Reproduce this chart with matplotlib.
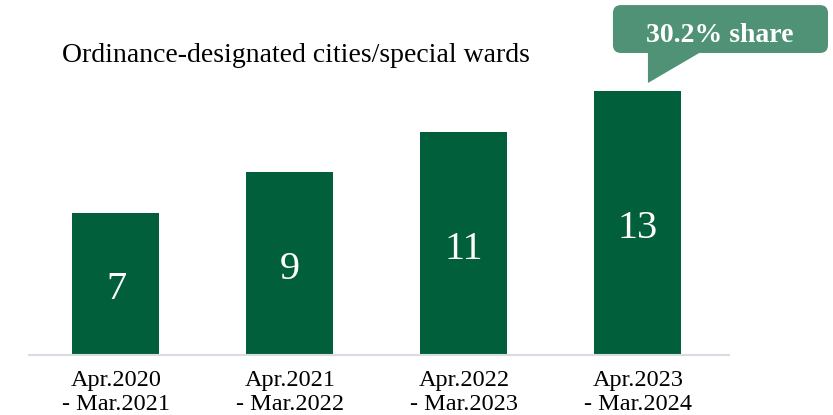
import matplotlib

matplotlib.use("Agg")
import matplotlib.pyplot as plt
from matplotlib.patches import FancyBboxPatch, Polygon

plt.rcParams["font.family"] = ["Liberation Serif", "DejaVu Serif"]

# data
periods = [
    "Apr.2020\n- Mar.2021",
    "Apr.2021\n- Mar.2022",
    "Apr.2022\n- Mar.2023",
    "Apr.2023\n- Mar.2024",
]
counts = [7, 9, 11, 13]
title = "Ordinance-designated cities/special wards"
callout = "30.2% share"

BAR = "#025f3b"
CALLOUT = "#4f9276"

W, H = 833, 415
fig = plt.figure(figsize=(W / 100, H / 100), dpi=100)
ax = fig.add_axes([29 / W, 60 / H, 700 / W, 355 / H])

x = list(range(len(counts)))
ax.bar(x, counts, width=0.5, color=BAR, zorder=2)
ax.set_xlim(-0.5, 3.523)
ax.set_ylim(0, 17.49)

for xi, v in zip(x, counts):
    ax.text(xi, v / 2 - 0.28, str(v), ha="center", va="center",
            color="white", fontsize=29)

ax.set_xticks(x)
ax.set_xticklabels(periods, fontsize=17.5, linespacing=1.15)
ax.tick_params(axis="x", length=0, pad=11)
ax.set_yticks([])
for s in ("top", "right", "left"):
    ax.spines[s].set_visible(False)
ax.spines["bottom"].set_color("#d9dde3")
ax.spines["bottom"].set_linewidth(1.5)

# callout above the last bar (data coords, ~174 px per x unit, ~20.3 px per y unit)
last = x[-1]
top = counts[-1]
box = FancyBboxPatch((last - 0.144, top + 1.88), 1.236, 2.36,
                     boxstyle="round,pad=0,rounding_size=0.046",
                     mutation_aspect=8.6, facecolor=CALLOUT,
                     edgecolor="none", clip_on=False, zorder=3)
ax.add_patch(box)
ax.add_patch(Polygon([(last + 0.057, top + 1.9), (last + 0.356, top + 1.9),
                      (last + 0.057, top + 0.4)], closed=True,
                     facecolor=CALLOUT, edgecolor="none",
                     clip_on=False, zorder=3))
ax.text(last + 0.471, top + 2.73, callout, ha="center", va="center",
        color="white", fontsize=20, fontweight="bold", zorder=4)

fig.text(62 / W, 1 - 55 / H, title, ha="left", va="center", fontsize=20)

fig.savefig("out.png", dpi=100)
